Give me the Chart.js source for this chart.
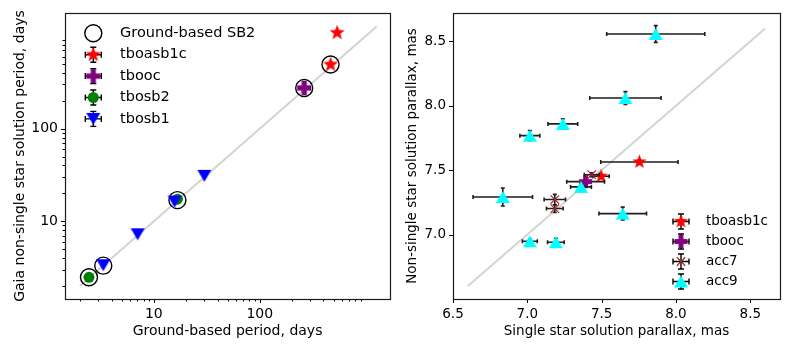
<!DOCTYPE html>
<html>
<head>
<meta charset="utf-8">
<script src="https://cdn.jsdelivr.net/npm/chart.js@4.4.1/dist/chart.umd.min.js"></script>
<style>
  body { margin: 0; background: #fff; }
  #wrap { position: relative; width: 793px; height: 353px; }
  #left { position: absolute; left: 0; top: 0; }
  #right { position: absolute; left: 400px; top: 0; }
</style>
</head>
<body>
<div id="wrap">
  <canvas id="left" width="400" height="353"></canvas>
  <canvas id="right" width="393" height="353"></canvas>
</div>
<script>
// ---- left panel: periods (days) ----
const sb2X = [2.44, 3.33, 16.7, 263, 466];
const sb2Y = [2.48, 3.31, 16.9, 275, 492];
const tboasb1cPerX = [466, 538];
const tboasb1cPerY = [492, 1084];
const tboocPerX = [263];
const tboocPerY = [275];
const tbosb2PerX = [2.44, 16.7];
const tbosb2PerY = [2.48, 17.3];
const tbosb1PerX = [3.33, 7.03, 15.7, 30.0];
const tbosb1PerY = [3.35, 7.23, 16.3, 30.9];
const periodLine = [2, 1270];
const periodMajorTicks = [10, 100];

// ---- right panel: parallaxes (mas) ----
const tboasb1cParX = [7.754, 7.496];
const tboasb1cParY = [7.564, 7.453];
const tboasb1cParXerr = [0.26, 0.055];
const tboasb1cParYerr = [0.015, 0.015];
const tboocParX = [7.392];
const tboocParY = [7.411];
const tboocParXerr = [0.127];
const tboocParYerr = [0.02];
const acc7ParX = [7.185, 7.185, 7.433];
const acc7ParY = [7.272, 7.202, 7.465];
const acc7ParXerr = [0.072, 0.056, 0.05];
const acc7ParYerr = [0.04, 0.03, 0.015];
const acc9ParX = [7.864, 7.660, 7.239, 7.017, 6.835, 7.361, 7.642, 7.017, 7.192];
const acc9ParY = [8.557, 8.060, 7.859, 7.768, 7.292, 7.370, 7.163, 6.948, 6.941];
const acc9ParXerr = [0.33, 0.24, 0.10, 0.067, 0.20, 0.07, 0.16, 0.05, 0.056];
const acc9ParYerr = [0.065, 0.05, 0.04, 0.04, 0.07, 0.02, 0.05, 0.02, 0.03];
const parallaxLine = [6.6, 8.6];
const parXTicks = [6.5, 7.0, 7.5, 8.0, 8.5];
const parYTicks = [7.0, 7.5, 8.0, 8.5];

const FONT = "'DejaVu Sans', sans-serif";

// minor ticks for the log axes (2..9 in each decade)
const periodMinorTicks = [];
[1, 10, 100].forEach(d => { for (let k = 2; k < 10; k++) periodMinorTicks.push(k * d); });

function pts(xs, ys) {
    return xs.map((x, i) => ({ x: x, y: ys[i] }));
}

// marker glyphs drawn once on small canvases
function markerCanvas(w, h, draw) {
    const c = document.createElement('canvas');
    c.width = w; c.height = h;
    const g = c.getContext('2d');
    g.translate(w / 2, h / 2);
    draw(g);
    return c;
}
function starMarker(color, r) {
    const s = Math.ceil(2 * r + 2);
    return markerCanvas(s, s, g => {
        g.beginPath();
        for (let i = 0; i < 10; i++) {
            const a = -Math.PI / 2 + i * Math.PI / 5;
            const rr = i % 2 ? r * 0.42 : r;
            g.lineTo(rr * Math.cos(a), rr * Math.sin(a));
        }
        g.closePath();
        g.fillStyle = color;
        g.fill();
    });
}
function plusMarker(color, r, t) {
    const s = Math.ceil(2 * r + 2);
    return markerCanvas(s, s, g => {
        g.fillStyle = color;
        g.fillRect(-r, -t, 2 * r, 2 * t);
        g.fillRect(-t, -r, 2 * t, 2 * r);
    });
}
function triMarker(color, w, h, down) {
    return markerCanvas(Math.ceil(w + 2), Math.ceil(h + 2), g => {
        g.beginPath();
        if (down) {
            g.moveTo(-w / 2, -h / 2); g.lineTo(w / 2, -h / 2); g.lineTo(0, h / 2);
        } else {
            g.moveTo(0, -h / 2); g.lineTo(w / 2, h / 2); g.lineTo(-w / 2, h / 2);
        }
        g.closePath();
        g.fillStyle = color;
        g.fill();
    });
}

const starL = starMarker('#ff0000', 8);
const plusL = plusMarker('#800080', 7, 2.6);
const triDownL = triMarker('#0000ff', 14, 12, true);
const starR = starMarker('#ff0000', 7.5);
const plusR = plusMarker('#800080', 6.5, 2.4);
const triUpR = triMarker('#00ffff', 14, 12, false);

// draws a legend entry marker using the library's point helper
function drawMarker(ctx, m, x, y) {
    ctx.save();
    ctx.fillStyle = m.fill || 'rgba(0,0,0,0)';
    ctx.strokeStyle = m.stroke || 'rgba(0,0,0,0)';
    ctx.lineWidth = m.borderWidth || 0;
    Chart.helpers.drawPoint(ctx, { pointStyle: m.style, radius: m.radius || 0, rotation: 0, borderWidth: m.borderWidth || 0 }, x, y);
    ctx.restore();
}

function errCross(ctx, x, y, hx, hy, cap) {
    ctx.beginPath();
    ctx.moveTo(x - hx, y); ctx.lineTo(x + hx, y);
    ctx.moveTo(x, y - hy); ctx.lineTo(x, y + hy);
    ctx.moveTo(x - hx, y - cap); ctx.lineTo(x - hx, y + cap);
    ctx.moveTo(x + hx, y - cap); ctx.lineTo(x + hx, y + cap);
    ctx.moveTo(x - cap, y - hy); ctx.lineTo(x + cap, y - hy);
    ctx.moveTo(x - cap, y + hy); ctx.lineTo(x + cap, y + hy);
    ctx.stroke();
}

// frame, tick marks, error bars and legend, drawn the matplotlib way
function panelPlugin(cfg) {
    return {
        id: 'panel',
        beforeDatasetDraw(chart, args) {
            const ds = chart.data.datasets[args.index];
            if (!ds.xErr) return;
            const ctx = chart.ctx, xs = chart.scales.x, ys = chart.scales.y;
            ctx.save();
            ctx.strokeStyle = '#1e1e1e';
            ctx.lineWidth = 1.6;
            ds.data.forEach((p, i) => {
                const px = xs.getPixelForValue(p.x), py = ys.getPixelForValue(p.y);
                const x1 = xs.getPixelForValue(p.x - ds.xErr[i]), x2 = xs.getPixelForValue(p.x + ds.xErr[i]);
                const y1 = ys.getPixelForValue(p.y - ds.yErr[i]), y2 = ys.getPixelForValue(p.y + ds.yErr[i]);
                ctx.beginPath();
                ctx.moveTo(x1, py); ctx.lineTo(x2, py);
                ctx.moveTo(px, y1); ctx.lineTo(px, y2);
                ctx.moveTo(x1, py - 2); ctx.lineTo(x1, py + 2);
                ctx.moveTo(x2, py - 2); ctx.lineTo(x2, py + 2);
                ctx.moveTo(px - 2, y1); ctx.lineTo(px + 2, y1);
                ctx.moveTo(px - 2, y2); ctx.lineTo(px + 2, y2);
                ctx.stroke();
            });
            ctx.restore();
        },
        afterDraw(chart) {
            const ctx = chart.ctx, a = chart.chartArea;
            const xs = chart.scales.x, ys = chart.scales.y;
            ctx.save();
            ctx.strokeStyle = '#000';
            ctx.lineWidth = 1;
            ctx.beginPath();
            cfg.xMajor.forEach(v => { const p = Math.round(xs.getPixelForValue(v)) + 0.5; ctx.moveTo(p, a.bottom); ctx.lineTo(p, a.bottom + 4); });
            cfg.yMajor.forEach(v => { const p = Math.round(ys.getPixelForValue(v)) + 0.5; ctx.moveTo(a.left, p); ctx.lineTo(a.left - 4, p); });
            (cfg.xMinor || []).forEach(v => {
                if (v < xs.min || v > xs.max) return;
                const p = Math.round(xs.getPixelForValue(v)) + 0.5; ctx.moveTo(p, a.bottom); ctx.lineTo(p, a.bottom + 2.5);
            });
            (cfg.yMinor || []).forEach(v => {
                if (v < ys.min || v > ys.max) return;
                const p = Math.round(ys.getPixelForValue(v)) + 0.5; ctx.moveTo(a.left, p); ctx.lineTo(a.left - 2.5, p);
            });
            ctx.stroke();
            ctx.strokeStyle = '#1a1a1a';
            ctx.lineWidth = 1.2;
            ctx.strokeRect(Math.round(a.left) + 0.5, Math.round(a.top) + 0.5, Math.round(a.right - a.left), Math.round(a.bottom - a.top));

            // legend
            ctx.font = cfg.legendFont;
            ctx.textBaseline = 'middle';
            ctx.textAlign = 'left';
            cfg.legend.forEach((it, i) => {
                const y = cfg.legendY + i * cfg.legendDy;
                if (it.err) {
                    ctx.strokeStyle = '#000';
                    ctx.lineWidth = 1.4;
                    errCross(ctx, cfg.legendX, y, 8, 7.5, 3);
                }
                drawMarker(ctx, it.marker, cfg.legendX, y);
                ctx.fillStyle = '#000';
                ctx.fillText(it.label, cfg.textX, y);
            });
            ctx.restore();
        }
    };
}

function axis(type, min, max, ticks, labelFn, font, title, titlePad, size, horiz) {
    return {
        type: type,
        min: min,
        max: max,
        afterBuildTicks: s => { s.ticks = ticks.map(v => ({ value: v })); },
        afterFit: s => { if (horiz) s.height = size; else s.width = size; },
        ticks: { autoSkip: false, maxRotation: 0, padding: 3, color: '#000', font: { family: FONT, size: font }, callback: labelFn },
        grid: { display: false, drawTicks: true, tickLength: 4 },
        border: { display: false },
        title: { display: true, text: title, color: '#000', font: { family: FONT, size: font }, padding: titlePad }
    };
}

// ---------- left chart ----------
const periodTickList = periodMinorTicks.concat(periodMajorTicks).sort((a, b) => a - b);
const periodLabel = v => periodMajorTicks.includes(v) ? String(v) : '';

new Chart(document.getElementById('left'), {
    type: 'scatter',
    data: {
        datasets: [
            { type: 'line', data: pts(periodLine, periodLine), borderColor: '#d3d3d3', borderWidth: 2, pointRadius: 0, order: 10 },
            { label: 'Ground-based SB2', data: pts(sb2X, sb2Y), pointStyle: 'circle', pointRadius: 8.5, backgroundColor: 'rgba(0,0,0,0)', borderColor: '#000', borderWidth: 1.4, order: 9 },
            { label: 'tboasb1c', data: pts(tboasb1cPerX, tboasb1cPerY), pointStyle: starL, order: 8 },
            { label: 'tbooc', data: pts(tboocPerX, tboocPerY), pointStyle: plusL, order: 7 },
            { label: 'tbosb2', data: pts(tbosb2PerX, tbosb2PerY), pointStyle: 'circle', pointRadius: 5.5, backgroundColor: '#008000', borderColor: '#008000', borderWidth: 0, order: 6 },
            { label: 'tbosb1', data: pts(tbosb1PerX, tbosb1PerY), pointStyle: triDownL, order: 5 }
        ]
    },
    options: {
        responsive: false,
        animation: false,
        layout: { padding: { top: 13, right: 8, left: 0, bottom: 0 } },
        plugins: { legend: { display: false }, tooltip: { enabled: false } },
        scales: {
            x: axis('logarithmic', 1.449, 1702, periodTickList, periodLabel, 14, 'Ground-based period, days', { top: 0, bottom: 13 }, 54, true),
            y: axis('logarithmic', 1.445, 1774, periodTickList, periodLabel, 14, 'Gaia non-single star solution period, days', { top: 12, bottom: 0 }, 65, false)
        }
    },
    plugins: [panelPlugin({
        xMajor: periodMajorTicks, yMajor: periodMajorTicks, xMinor: periodMinorTicks, yMinor: periodMinorTicks,
        legendFont: '14.5px ' + FONT, legendX: 93.3, textX: 120, legendY: 33.3, legendDy: 21.4,
        legend: [
            { label: 'Ground-based SB2', marker: { style: 'circle', radius: 8.5, stroke: '#000', borderWidth: 1.4 } },
            { label: 'tboasb1c', err: true, marker: { style: starL } },
            { label: 'tbooc', err: true, marker: { style: plusL } },
            { label: 'tbosb2', err: true, marker: { style: 'circle', radius: 5.5, fill: '#008000' } },
            { label: 'tbosb1', err: true, marker: { style: triDownL } }
        ]
    })]
});

// ---------- right chart ----------
const parLabel = v => v.toFixed(1);

new Chart(document.getElementById('right'), {
    type: 'scatter',
    data: {
        datasets: [
            { type: 'line', data: pts(parallaxLine, parallaxLine), borderColor: '#d3d3d3', borderWidth: 2, pointRadius: 0, order: 10 },
            { label: 'tboasb1c', data: pts(tboasb1cParX, tboasb1cParY), xErr: tboasb1cParXerr, yErr: tboasb1cParYerr, pointStyle: starR, order: 8 },
            { label: 'tbooc', data: pts(tboocParX, tboocParY), xErr: tboocParXerr, yErr: tboocParYerr, pointStyle: plusR, order: 7 },
            { label: 'acc7', data: pts(acc7ParX, acc7ParY), xErr: acc7ParXerr, yErr: acc7ParYerr, pointStyle: 'crossRot', pointRadius: 6, borderColor: '#a52a2a', borderWidth: 1.2, order: 6 },
            { label: 'acc9', data: pts(acc9ParX, acc9ParY), xErr: acc9ParXerr, yErr: acc9ParYerr, pointStyle: triUpR, order: 5 }
        ]
    },
    options: {
        responsive: false,
        animation: false,
        layout: { padding: { top: 13, right: 13, left: 0, bottom: 0 } },
        plugins: { legend: { display: false }, tooltip: { enabled: false } },
        scales: {
            x: axis('linear', 6.5, 8.7, parXTicks, parLabel, 13.5, 'Single star solution parallax, mas', { top: 0, bottom: 13 }, 54, true),
            y: axis('linear', 6.5, 8.72, parYTicks, parLabel, 13.5, 'Non-single star solution parallax, mas', { top: 4, bottom: 0 }, 53, false)
        }
    },
    plugins: [panelPlugin({
        xMajor: parXTicks, yMajor: parYTicks,
        legendFont: '13.5px ' + FONT, legendX: 281, textX: 306, legendY: 221.5, legendDy: 20,
        legend: [
            { label: 'tboasb1c', err: true, marker: { style: starR } },
            { label: 'tbooc', err: true, marker: { style: plusR } },
            { label: 'acc7', err: true, marker: { style: 'crossRot', radius: 6, stroke: '#a52a2a', borderWidth: 1.2 } },
            { label: 'acc9', err: true, marker: { style: triUpR } }
        ]
    })]
});
</script>
</body>
</html>
